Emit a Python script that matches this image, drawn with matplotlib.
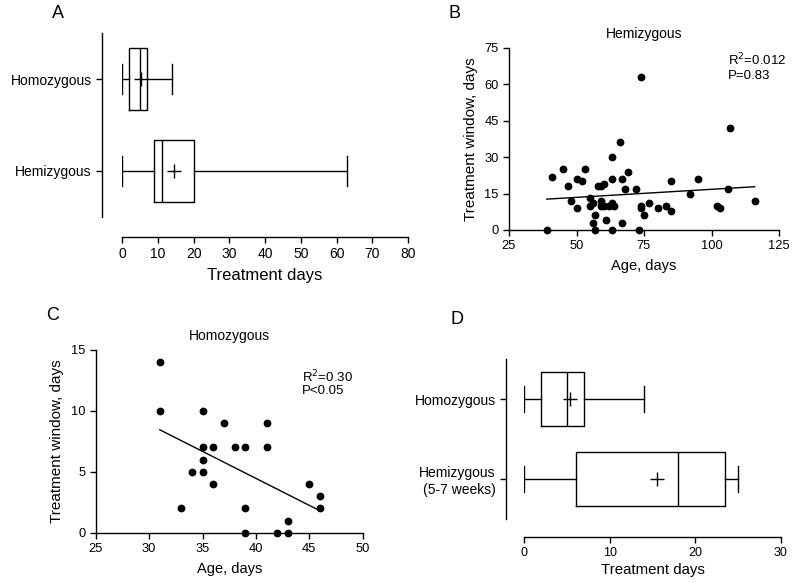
import matplotlib
matplotlib.use("Agg")
import matplotlib.pyplot as plt

plt.rcParams['font.family'] = ['Liberation Sans', 'DejaVu Sans']

# ---- Panel A data (box stats) ----
a_groups = ['Homozygous', 'Hemizygous']
a_whislo = [0, 0]
a_q1 = [2, 9]
a_med = [5, 11]
a_q3 = [7, 20]
a_whishi = [14, 63]
a_mean = [5.2, 14.5]
a_xticks = [0, 10, 20, 30, 40, 50, 60, 70, 80]

# ---- Panel B data (hemizygous scatter) ----
b_age = [39, 41, 45, 47, 48, 50, 50, 52, 53, 55, 55, 56, 56, 57, 57, 58, 59, 60,
         59, 59, 60, 61, 62, 63, 63, 63, 63, 64, 66, 67, 67, 68, 69, 72, 73, 74,
         74, 74, 75, 77, 80, 83, 85, 85, 92, 95, 102, 103, 106, 107, 116]
b_window = [0, 22, 25, 18, 12, 21, 9, 20, 25, 13, 10, 3, 11, 6, 0, 18, 18, 19,
            12, 10, 10, 4, 10, 30, 21, 11, 0, 10, 36, 21, 3, 17, 24, 17, 0, 63,
            10, 9, 6, 11, 9, 10, 20, 8, 15, 21, 10, 9, 17, 42, 12]
b_fit_x = [39, 116]
b_fit_y = [12.7, 17.8]
b_xticks = [25, 50, 75, 100, 125]
b_yticks = [0, 15, 30, 45, 60, 75]

# ---- Panel C data (homozygous scatter) ----
c_age = [31, 31, 33, 34, 35, 35, 35, 35, 36, 36, 37, 38, 39, 39, 39, 41, 41,
         42, 43, 43, 45, 46, 46]
c_window = [14, 10, 2, 5, 10, 7, 6, 5, 7, 4, 9, 7, 7, 2, 0, 9, 7,
            0, 1, 0, 4, 3, 2]
c_fit_x = [31, 46]
c_fit_y = [8.45, 1.8]
c_xticks = [25, 30, 35, 40, 45, 50]
c_yticks = [0, 5, 10, 15]

# ---- Panel D data (box stats) ----
d_groups = ['Homozygous', 'Hemizygous\n(5-7 weeks)']
d_whislo = [0, 0]
d_q1 = [2, 6]
d_med = [5, 18]
d_q3 = [7, 23.5]
d_whishi = [14, 25]
d_mean = [5.3, 15.5]
d_xticks = [0, 10, 20, 30]

W, H = 793, 583
fig = plt.figure(figsize=(W / 100, H / 100), dpi=100)
PX2PT = 0.72

def ax_px(x0, y0, x1, y1):
    return fig.add_axes([x0 / W, 1 - y1 / H, (x1 - x0) / W, (y1 - y0) / H])

LW = 1.0

def box_panel(ax, groups, whislo, q1, med, q3, whishi, mean, xticks, off_l, off_b,
              ytick_fs, xtick_fs, xlabel_fs, labelpad):
    stats = []
    for i in range(len(groups)):
        stats.append(dict(whislo=whislo[i], q1=q1[i], med=med[i], q3=q3[i],
                          whishi=whishi[i], mean=mean[i], fliers=[]))
    pos = [1, 0]
    ax.bxp(stats, positions=pos, widths=0.67, capwidths=0.33,
           orientation='horizontal', showmeans=True, showfliers=False,
           boxprops=dict(color='black', lw=LW),
           whiskerprops=dict(color='black', lw=LW),
           capprops=dict(color='black', lw=LW),
           medianprops=dict(color='black', lw=LW),
           meanprops=dict(marker='+', markeredgecolor='black', markersize=10,
                          markeredgewidth=LW))
    ax.set_ylim(-0.5, 1.5)
    ax.set_xlim(xticks[0], xticks[-1])
    ax.set_xticks(xticks)
    ax.set_yticks(pos)
    ax.set_yticklabels(groups, fontsize=ytick_fs, ha='right', multialignment='center')
    ax.tick_params(axis='x', labelsize=xtick_fs, length=4.3, width=LW, pad=3)
    ax.tick_params(axis='y', length=4.3, width=LW, pad=3)
    for s in ['top', 'right']:
        ax.spines[s].set_visible(False)
    ax.spines['left'].set_position(('outward', off_l * PX2PT))
    ax.spines['bottom'].set_position(('outward', off_b * PX2PT))
    for s in ['left', 'bottom']:
        ax.spines[s].set_linewidth(LW)
    ax.set_xlabel('Treatment days', fontsize=xlabel_fs, labelpad=labelpad)

# Panel A
axA = ax_px(122.3, 33, 408, 217)
box_panel(axA, a_groups, a_whislo, a_q1, a_med, a_q3, a_whishi, a_mean, a_xticks,
          20.6, 20, 10.8, 10, 12, 5)

# Panel D
axD = ax_px(524.3, 359, 780.7, 519)
box_panel(axD, d_groups, d_whislo, d_q1, d_med, d_q3, d_whishi, d_mean, d_xticks,
          18.3, 17.7, 8.9, 9, 10.8, 3)

def scatter_panel(ax, x, y, fx, fy, xticks, yticks, title):
    ax.plot(x, y, 'o', color='black', markersize=4.6, clip_on=False, zorder=3)
    ax.plot(fx, fy, color='black', lw=LW)
    ax.set_xlim(xticks[0], xticks[-1])
    ax.set_ylim(yticks[0], yticks[-1])
    ax.set_xticks(xticks)
    ax.set_yticks(yticks)
    ax.tick_params(labelsize=9.3, length=4.3, width=LW, pad=3)
    for s in ['top', 'right']:
        ax.spines[s].set_visible(False)
    for s in ['left', 'bottom']:
        ax.spines[s].set_linewidth(LW)
    ax.set_title(title, fontsize=10, pad=7)
    ax.set_xlabel('Age, days', fontsize=10.5, labelpad=5)
    ax.set_ylabel('Treatment window, days', fontsize=11, labelpad=5)
    return ax

# Panel B
axB = ax_px(509, 47.7, 779, 230)
scatter_panel(axB, b_age, b_window, b_fit_x, b_fit_y, b_xticks, b_yticks, 'Hemizygous')
axB.text(106.1, 69.9, 'R$^{2}$=0.012', fontsize=9.5, va='center', ha='left')
axB.text(106.1, 63.3, 'P=0.83', fontsize=9.5, va='center', ha='left')

# Panel C
axC = ax_px(95.7, 350, 362.7, 532.7)
scatter_panel(axC, c_age, c_window, c_fit_x, c_fit_y, c_xticks, c_yticks, 'Homozygous')
axC.text(44.3, 12.8, 'R$^{2}$=0.30', fontsize=9.5, va='center', ha='left')
axC.text(44.3, 11.6, 'P<0.05', fontsize=9.5, va='center', ha='left')

# Panel letters
for lab, x, y in [('A', 58, 13), ('B', 454, 13), ('C', 53, 315), ('D', 457, 319)]:
    fig.text(x / W, 1 - y / H, lab, fontsize=13, ha='center', va='center')

fig.savefig('out.png', dpi=100)
